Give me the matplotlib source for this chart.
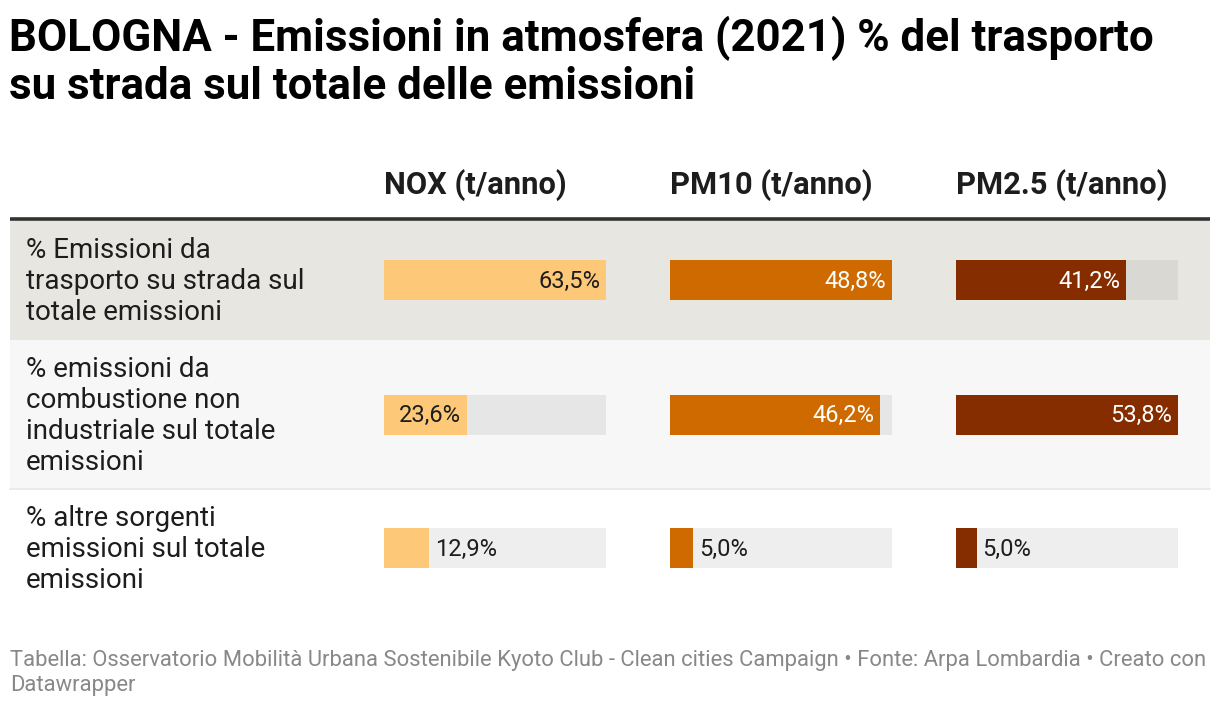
import numpy as np
import matplotlib.pyplot as plt
from matplotlib.patches import Rectangle

plt.rcParams['font.family'] = ['Roboto', 'DejaVu Sans']

# --- data ---
title = "BOLOGNA - Emissioni in atmosfera (2021) % del trasporto\nsu strada sul totale delle emissioni"
row_labels = [
    "% Emissioni da\ntrasporto su strada sul\ntotale emissioni",
    "% emissioni da\ncombustione non\nindustriale sul totale\nemissioni",
    "% altre sorgenti\nemissioni sul totale\nemissioni",
]
columns = ["NOX (t/anno)", "PM10 (t/anno)", "PM2.5 (t/anno)"]
nox = [63.5, 23.6, 12.9]
pm10 = [48.8, 46.2, 5.0]
pm25 = [41.2, 53.8, 5.0]
bar_colors = ["#fdc877", "#cf6a00", "#862d00"]
text_on_bar = ["#1d1d1d", "#ffffff", "#ffffff"]
footer = ("Tabella: Osservatorio Mobilità Urbana Sostenibile Kyoto Club - Clean cities Campaign "
          "• Fonte: Arpa Lombardia • Creato con\nDatawrapper")

# --- layout (pixels) ---
W, H = 1220, 708
row_edges = [220, 340, 489, 607]
row_bg = ["#e8e6e1", "#f7f7f7", "#ffffff"]
track = ["#d9d8d3", "#e6e6e6", "#eeeeee"]
col_x = [384, 670, 956]
col_w = 222
bar_h = 40

fig = plt.figure(figsize=(W / 100, H / 100), dpi=100)
bg = fig.add_axes([0, 0, 1, 1])
bg.set_xlim(0, W)
bg.set_ylim(H, 0)
bg.axis("off")

bg.text(9, 62, title, fontsize=31.6, fontweight="bold", color="#000000",
        ha="left", va="center", linespacing=1.13)

for x, name in zip(col_x, columns):
    bg.text(x, 185, name, fontsize=22.2, fontweight="bold", color="#1d1d1d",
            ha="left", va="center")

centers = []
for i, lab in enumerate(row_labels):
    y0, y1 = row_edges[i], row_edges[i + 1]
    bg.add_patch(Rectangle((10, y0), 1200, y1 - y0, color=row_bg[i], lw=0))
    c = (y0 + y1) / 2
    centers.append(c)
    bg.text(26, c + 1.5, lab, fontsize=20, color="#1d1d1d", ha="left", va="center",
            linespacing=1.2)

bg.plot([10, 1210], [219, 219], color="#333333", lw=2.6, solid_capstyle="butt")
bg.plot([10, 1210], [489, 489], color="#e8e8e8", lw=1.2)

bg.text(10, 673, footer, fontsize=15.8, color="#888888", ha="left", va="center",
        linespacing=1.27)

# --- bar columns ---
for j, vals in enumerate([nox, pm10, pm25]):
    top, bot = row_edges[0], row_edges[-1]
    ax = fig.add_axes([col_x[j] / W, 1 - bot / H, col_w / W, (bot - top) / H])
    vmax = max(vals)
    ax.set_xlim(0, vmax)
    ax.set_ylim(bot, top)
    ax.axis("off")
    ax.patch.set_alpha(0)
    ax.barh(centers, [vmax] * len(vals), height=bar_h, color=track, lw=0)
    ax.barh(centers, vals, height=bar_h, color=bar_colors[j], lw=0)
    pad = vmax * 6 / col_w
    for c, v in zip(centers, vals):
        lab = f"{v:.1f}%".replace(".", ",")
        if v / vmax > 0.3:
            ax.text(v - pad, c + 1, lab, fontsize=17, color=text_on_bar[j],
                    ha="right", va="center")
        else:
            ax.text(v + pad, c + 1, lab, fontsize=17, color="#1d1d1d",
                    ha="left", va="center")

fig.savefig("out.png", dpi=100)
